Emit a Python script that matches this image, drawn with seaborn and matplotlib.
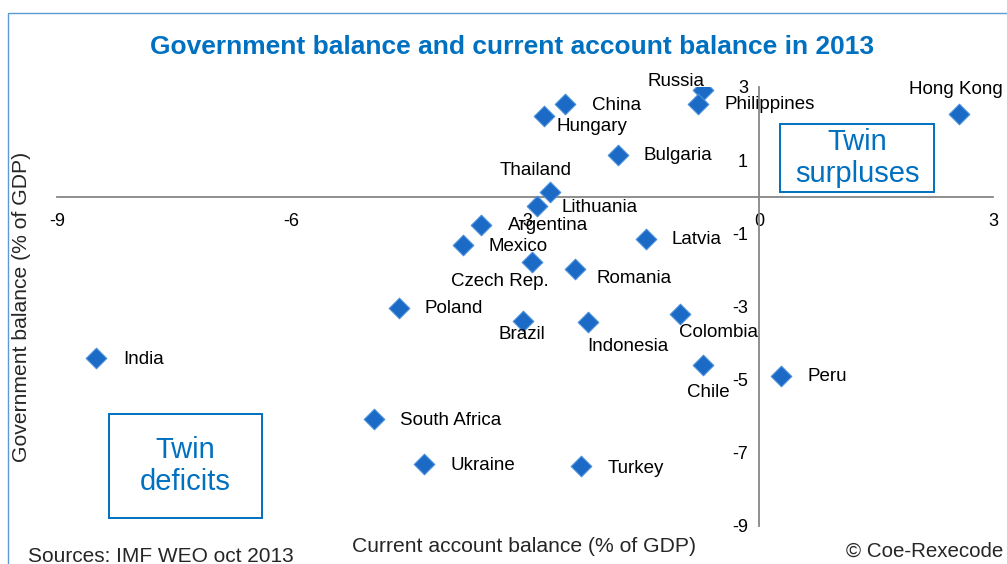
import matplotlib
matplotlib.use("Agg")
import matplotlib.pyplot as plt
from matplotlib.patches import Rectangle
import seaborn as sns
import pandas as pd

# Country data: current account balance and government balance, % of GDP, 2013
countries = ["Russia", "Philippines", "Hong Kong", "China", "Hungary", "Bulgaria",
             "Thailand", "Lithuania", "Argentina", "Mexico", "Latvia", "Czech Rep.",
             "Romania", "Poland", "Brazil", "Indonesia", "Colombia", "India", "Chile",
             "Peru", "South Africa", "Ukraine", "Turkey"]
current_account = [-0.72, -0.78, 2.56, -2.49, -2.76, -1.81,
                   -2.68, -2.85, -3.56, -3.79, -1.45, -2.91,
                   -2.36, -4.62, -3.03, -2.19, -1.01, -8.50, -0.72,
                   0.28, -4.94, -4.29, -2.28]
gov_balance = [2.92, 2.54, 2.27, 2.54, 2.21, 1.15,
               0.14, -0.25, -0.77, -1.31, -1.15, -1.78,
               -1.97, -3.03, -3.39, -3.42, -3.20, -4.40, -4.59,
               -4.89, -6.07, -7.30, -7.35]
x_ticks = [-9, -6, -3, 0, 3]
y_ticks = [3, 1, -1, -3, -5, -7, -9]

# Label placement per country: (horizontal alignment, dx px, dy px up)
label_pos = {
    "Russia": ("right", 2, 8), "Philippines": ("left", 26, -1),
    "Hong Kong": ("center", -3, 24), "China": ("left", 27, -2),
    "Hungary": ("left", 13, -11), "Bulgaria": ("left", 26, -1),
    "Thailand": ("center", -14, 21), "Lithuania": ("left", 25, -2),
    "Argentina": ("left", 27, -1), "Mexico": ("left", 25, -2),
    "Latvia": ("left", 26, -1), "Czech Rep.": ("center", -32, -20),
    "Romania": ("left", 22, -10), "Poland": ("left", 26, -1),
    "Brazil": ("center", -1, -14), "Indonesia": ("center", 40, -25),
    "Colombia": ("center", 38, -19), "India": ("left", 27, -2),
    "Chile": ("center", 5, -28), "Peru": ("left", 27, -1),
    "South Africa": ("left", 26, -2), "Ukraine": ("left", 26, -2),
    "Turkey": ("left", 26, -3),
}

df = pd.DataFrame({"country": countries, "ca": current_account, "gb": gov_balance})

sns.set_style("white")
plt.rcParams["font.family"] = ["Liberation Sans", "DejaVu Sans"]

BLUE = "#0070C0"
MARK = "#1B6AC6"
GREY = "#868686"

W, H = 1007, 564
fig = plt.figure(figsize=(W / 100, H / 100), dpi=100)
ax = fig.add_axes([57 / W, 1 - 526 / H, (993 - 57) / W, (526 - 87) / H])

sns.scatterplot(data=df, x="ca", y="gb", marker="D", s=110, color=MARK,
                edgecolor="#4A8FDB", linewidth=0.8, ax=ax, zorder=3, legend=False)

ax.set_xlim(-9, 3)
ax.set_ylim(-9, 3)
ax.set_xticks(x_ticks)
ax.set_yticks(y_ticks)
ax.set_xticklabels([str(t) for t in x_ticks])
ax.set_yticklabels([str(t) for t in y_ticks])

for side in ["top", "right"]:
    ax.spines[side].set_visible(False)
ax.spines["left"].set_position(("data", 0))
ax.spines["bottom"].set_position(("data", 0))
for side in ["left", "bottom"]:
    ax.spines[side].set_color(GREY)
    ax.spines[side].set_linewidth(1.3)
ax.tick_params(axis="both", colors=GREY, labelcolor="black", labelsize=13,
               length=4, width=1.3, direction="out")
ax.tick_params(axis="x", pad=7.5)
ax.tick_params(axis="y", pad=4)
ax.set_xlabel("")
ax.set_ylabel("")
ax.patch.set_alpha(0)

for name, x, y in zip(countries, current_account, gov_balance):
    ha, dx, dy = label_pos[name]
    ax.annotate(name, (x, y), xytext=(dx * 0.72, dy * 0.72), textcoords="offset points",
                ha=ha, va="center", fontsize=13.5, color="black", zorder=4)

# Quadrant captions
def caption_box(x0, y0, x1, y1, text):
    fig.add_artist(Rectangle((x0 / W, 1 - y1 / H), (x1 - x0) / W, (y1 - y0) / H,
                             transform=fig.transFigure, fill=False,
                             edgecolor=BLUE, linewidth=1.4))
    fig.text((x0 + x1) / 2 / W, 1 - (y0 + y1) / 2 / H, text, ha="center", va="center",
             color=BLUE, fontsize=21, linespacing=1.15)

caption_box(780, 124, 934, 192, "Twin\nsurpluses")
caption_box(109, 414, 262, 518, "Twin\ndeficits")

# Outer frame
fig.add_artist(Rectangle((8 / W, -0.05), 1.1, 1 - 13 / H + 0.05, transform=fig.transFigure,
                         fill=False, edgecolor="#5B9BD5", linewidth=1.0))

fig.text(512 / W, 1 - 47 / H, "Government balance and current account balance in 2013",
         ha="center", va="center", color=BLUE, fontsize=19, fontweight="bold")
fig.text(22 / W, 1 - 307 / H, "Government balance (% of GDP)", rotation=90,
         ha="center", va="center", fontsize=15.2)
fig.text(524 / W, 1 - 547 / H, "Current account balance (% of GDP)",
         ha="center", va="center", fontsize=15.2)
fig.text(28 / W, 1 - 556 / H, "Sources: IMF WEO oct 2013", ha="left", va="center",
         fontsize=15)
fig.text(1003 / W, 1 - 551 / H, "© Coe-Rexecode", ha="right", va="center", fontsize=14.8)

fig.savefig("out.png", dpi=100)
